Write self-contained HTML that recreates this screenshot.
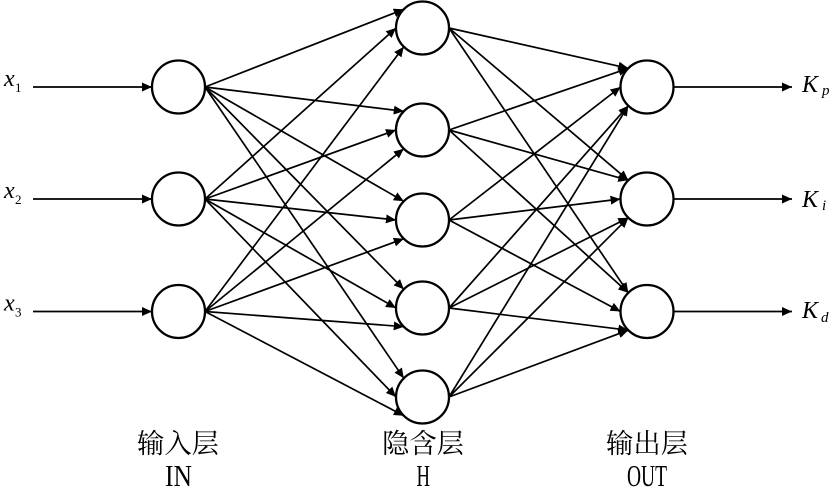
<!DOCTYPE html>
<html>
<head>
<meta charset="utf-8">
<style>
  html, body { margin: 0; padding: 0; background: #ffffff; }
  svg { display: block; }
</style>
</head>
<body>
<svg width="837" height="504" viewBox="0 0 837 504" xmlns="http://www.w3.org/2000/svg">
  <defs>
    <marker id="ah" markerUnits="userSpaceOnUse" markerWidth="11" markerHeight="9" refX="10" refY="4.5" orient="auto">
      <path d="M0,0 L10,4.5 L0,9 z" fill="#000"/>
    </marker>
  </defs>
  <rect width="837" height="504" fill="#fff"/>

  <g stroke="#000" stroke-width="1.7" fill="none" marker-end="url(#ah)">
    <line x1="33" y1="87" x2="152" y2="87"/>
    <line x1="33" y1="199" x2="152" y2="199"/>
    <line x1="33" y1="311.5" x2="152" y2="311.5"/>

    <line x1="205" y1="87" x2="403.8" y2="9.3"/>
    <line x1="205" y1="87" x2="403.8" y2="111.3"/>
    <line x1="205" y1="87" x2="403.8" y2="201.3"/>
    <line x1="205" y1="87" x2="403.8" y2="289.3"/>
    <line x1="205" y1="87" x2="403.8" y2="378.3"/>
    <line x1="205" y1="199" x2="396" y2="28"/>
    <line x1="205" y1="199" x2="396" y2="130"/>
    <line x1="205" y1="199" x2="396" y2="220"/>
    <line x1="205" y1="199" x2="396" y2="308"/>
    <line x1="205" y1="199" x2="396" y2="397"/>
    <line x1="205" y1="311.5" x2="403.8" y2="46.7"/>
    <line x1="205" y1="311.5" x2="403.8" y2="148.7"/>
    <line x1="205" y1="311.5" x2="403.8" y2="238.7"/>
    <line x1="205" y1="311.5" x2="403.8" y2="326.7"/>
    <line x1="205" y1="311.5" x2="403.8" y2="415.7"/>

    <line x1="449" y1="28" x2="628.3" y2="68.3"/>
    <line x1="449" y1="28" x2="628.3" y2="180.3"/>
    <line x1="449" y1="28" x2="628.3" y2="292.8"/>
    <line x1="449" y1="130" x2="628.3" y2="68.3"/>
    <line x1="449" y1="130" x2="628.3" y2="180.3"/>
    <line x1="449" y1="130" x2="628.3" y2="292.8"/>
    <line x1="449" y1="220" x2="620.5" y2="87"/>
    <line x1="449" y1="220" x2="620.5" y2="199"/>
    <line x1="449" y1="220" x2="620.5" y2="311.5"/>
    <line x1="449" y1="308" x2="628.3" y2="105.7"/>
    <line x1="449" y1="308" x2="628.3" y2="217.7"/>
    <line x1="449" y1="308" x2="628.3" y2="330.2"/>
    <line x1="449" y1="397" x2="628.3" y2="105.7"/>
    <line x1="449" y1="397" x2="628.3" y2="217.7"/>
    <line x1="449" y1="397" x2="628.3" y2="330.2"/>

    <line x1="673.5" y1="87" x2="792" y2="87"/>
    <line x1="673.5" y1="199" x2="792" y2="199"/>
    <line x1="673.5" y1="311.5" x2="792" y2="311.5"/>
  </g>

  <g stroke="#000" stroke-width="2.3" fill="#fff">
    <circle cx="178.5" cy="87" r="26.5"/>
    <circle cx="178.5" cy="199" r="26.5"/>
    <circle cx="178.5" cy="311.5" r="26.5"/>

    <circle cx="422.5" cy="28" r="26.5"/>
    <circle cx="422.5" cy="130" r="26.5"/>
    <circle cx="422.5" cy="220" r="26.5"/>
    <circle cx="422.5" cy="308" r="26.5"/>
    <circle cx="422.5" cy="397" r="26.5"/>

    <circle cx="647" cy="87" r="26.5"/>
    <circle cx="647" cy="199" r="26.5"/>
    <circle cx="647" cy="311.5" r="26.5"/>
  </g>

  <g font-family="'Liberation Serif', serif" font-style="italic" fill="#000">
    <text x="4" y="86" font-size="24">x</text>
    <text x="15" y="92" font-size="13" font-style="normal">1</text>
    <text x="4" y="198" font-size="24">x</text>
    <text x="15" y="204" font-size="13" font-style="normal">2</text>
    <text x="4" y="310.5" font-size="24">x</text>
    <text x="15" y="316.5" font-size="13" font-style="normal">3</text>

    <text x="802" y="92" font-size="24">K</text>
    <text x="822" y="95" font-size="15">p</text>
    <text x="802" y="207" font-size="24">K</text>
    <text x="822" y="210" font-size="15">i</text>
    <text x="802" y="318" font-size="24">K</text>
    <text x="821" y="322" font-size="15">d</text>
  </g>

  <g font-family="'Liberation Serif', 'Noto Serif CJK SC', serif" fill="#000">
    <text x="137" y="453" font-size="27" textLength="82" lengthAdjust="spacingAndGlyphs">输入层</text>
    <text x="382" y="453" font-size="27" textLength="82" lengthAdjust="spacingAndGlyphs">隐含层</text>
    <text x="606" y="453" font-size="27" textLength="82" lengthAdjust="spacingAndGlyphs">输出层</text>

    <text x="165" y="486" font-size="31" textLength="27" lengthAdjust="spacingAndGlyphs">IN</text>
    <text x="416.5" y="486" font-size="31" textLength="13.5" lengthAdjust="spacingAndGlyphs">H</text>
    <text x="627" y="486" font-size="31" textLength="40" lengthAdjust="spacingAndGlyphs">OUT</text>
  </g>
</svg>
</body>
</html>
